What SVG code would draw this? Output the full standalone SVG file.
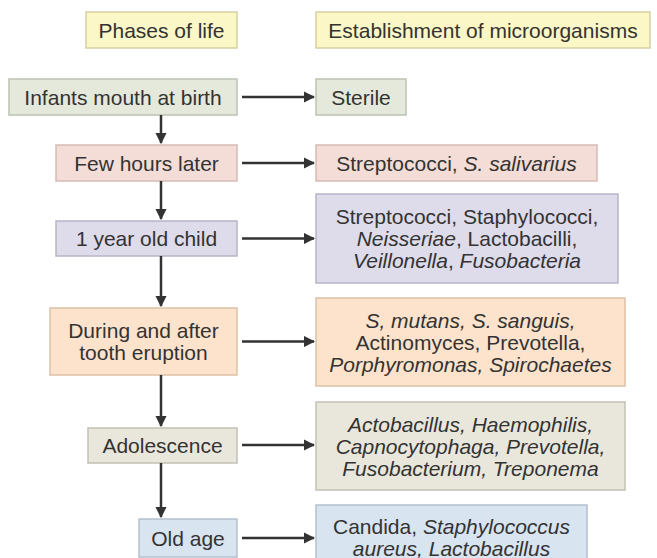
<svg xmlns="http://www.w3.org/2000/svg" width="657" height="558" viewBox="0 0 657 558">
<defs>
<style>
text{font-family:"Liberation Sans",Arial,sans-serif;font-size:21px;fill:#333;text-anchor:middle}
.i{font-style:italic}
rect{stroke-width:1.5}
.hd{fill:#fbf7c6;stroke:#d6d1a4}
.g{fill:#e4e9dc;stroke:#bcc2b4}
.p{fill:#f4ddd7;stroke:#d6bbb4}
.l{fill:#dedbea;stroke:#b8b4c8}
.o{fill:#fde3cc;stroke:#dcc1a8}
.b{fill:#e9e7dc;stroke:#c3c1b4}
.s{fill:#d8e4f0;stroke:#b3c1cf}
.c{stroke:#333;stroke-width:2.5;fill:none;marker-end:url(#ah)}
</style>
<marker id="ah" viewBox="0 0 10 10" refX="9" refY="5" markerWidth="4.5" markerHeight="4.5" orient="auto" markerUnits="strokeWidth">
<path d="M0,0 L10,5 L0,10 z" fill="#333"/>
</marker>
</defs>
<rect width="657" height="558" fill="#fff"/>
<g id="h1"><rect class="hd" x="86" y="12" width="151" height="36"/><text x="161.5" y="37.5">Phases of life</text></g>
<g id="h2"><rect class="hd" x="316" y="12" width="334" height="36"/><text x="483" y="37.5">Establishment of microorganisms</text></g>

<g id="n1"><rect class="g" x="9" y="79" width="228" height="36"/><text x="123" y="104.5">Infants mouth at birth</text></g>
<g id="m1"><rect class="g" x="316" y="79" width="90" height="36"/><text x="361" y="104.5">Sterile</text></g>

<g id="n2"><rect class="p" x="56" y="145" width="181" height="36"/><text x="146.5" y="170.5">Few hours later</text></g>
<g id="m2"><rect class="p" x="316" y="145" width="281" height="36"/><text x="456.5" y="170.5">Streptococci, <tspan class="i">S. salivarius</tspan></text></g>

<g id="n3"><rect class="l" x="56" y="221" width="181" height="35"/><text x="146.5" y="246">1 year old child</text></g>
<g id="m3"><rect class="l" x="316" y="194" width="302" height="89"/>
<text x="467" y="224">Streptococci, Staphylococci,</text>
<text x="467" y="246"><tspan class="i">Neisseriae</tspan>, Lactobacilli,</text>
<text x="467" y="268"><tspan class="i">Veillonella</tspan>, <tspan class="i">Fusobacteria</tspan></text></g>

<g id="n4"><rect class="o" x="50" y="308" width="187" height="67"/>
<text x="143.5" y="338">During and after</text>
<text x="143.5" y="360">tooth eruption</text></g>
<g id="m4"><rect class="o" x="316" y="298" width="309" height="88"/>
<text x="470.5" y="327.5" class="i">S, mutans, S. sanguis,</text>
<text x="470.5" y="349.5">Actinomyces, Prevotella,</text>
<text x="470.5" y="371.5" class="i">Porphyromonas, Spirochaetes</text></g>

<g id="n5"><rect class="b" x="88" y="428" width="149" height="35"/><text x="162.5" y="453">Adolescence</text></g>
<g id="m5"><rect class="b" x="316" y="402" width="309" height="88"/>
<text x="470.5" y="431.5" class="i">Actobacillus, Haemophilis,</text>
<text x="470.5" y="453.5" class="i">Capnocytophaga, Prevotella,</text>
<text x="470.5" y="475.5" class="i">Fusobacterium, Treponema</text></g>

<g id="n6"><rect class="s" x="139" y="519" width="98" height="38"/><text x="188" y="545.5">Old age</text></g>
<g id="m6"><rect class="s" x="316" y="505" width="271" height="70"/>
<text x="451.5" y="534">Candida, <tspan class="i">Staphylococcus</tspan></text>
<text x="451.5" y="556" class="i">aureus, Lactobacillus</text></g>

<g id="connectors">
<path class="c" d="M161,115 V143"/>
<path class="c" d="M161,181 V219"/>
<path class="c" d="M161,256 V306"/>
<path class="c" d="M161,375 V426"/>
<path class="c" d="M161,463 V517"/>
<path class="c" d="M242,97 H314"/>
<path class="c" d="M242,163 H314"/>
<path class="c" d="M242,238.5 H314"/>
<path class="c" d="M242,341.5 H314"/>
<path class="c" d="M242,445 H314"/>
<path class="c" d="M242,538 H314"/>
</g>
</svg>
